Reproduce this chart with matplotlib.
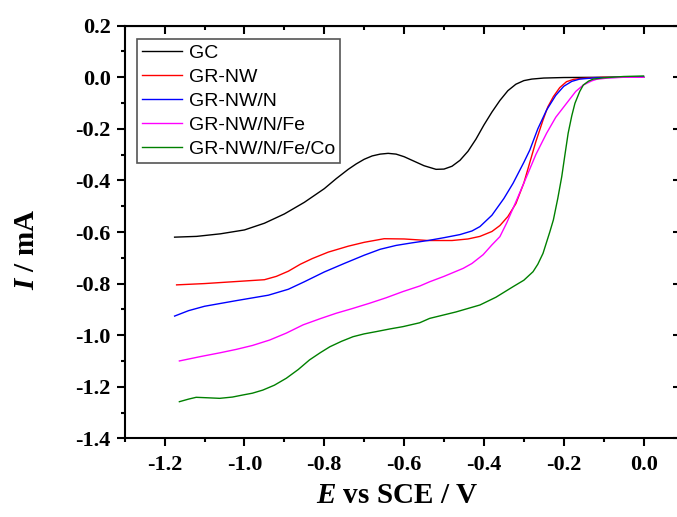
import matplotlib
matplotlib.use('Agg')
import matplotlib.pyplot as plt
from matplotlib.ticker import MultipleLocator
from matplotlib import rcParams

rcParams['mathtext.fontset'] = 'custom'
rcParams['mathtext.it'] = 'Liberation Serif:bold:italic'
rcParams['mathtext.rm'] = 'Liberation Serif:bold'
rcParams['mathtext.bf'] = 'Liberation Serif:bold'

# GC
gc_x = [-1.175, -1.12, -1.06, -1.00, -0.95, -0.90, -0.85, -0.80, -0.77, -0.74, -0.72, -0.70,
        -0.68, -0.66, -0.64, -0.62, -0.60, -0.58, -0.55, -0.52, -0.50, -0.48, -0.46, -0.44,
        -0.42, -0.40, -0.38, -0.36, -0.34, -0.32, -0.30, -0.28, -0.25, -0.20, -0.10, 0.0]
gc_y = [-0.620, -0.617, -0.607, -0.592, -0.566, -0.530, -0.485, -0.432, -0.393, -0.357, -0.336,
        -0.318, -0.305, -0.298, -0.295, -0.298, -0.308, -0.322, -0.343, -0.357, -0.356, -0.345,
        -0.322, -0.287, -0.240, -0.185, -0.135, -0.090, -0.052, -0.027, -0.013, -0.007, -0.003,
        -0.001, 0.0, 0.0]

# GR-NW
nw_x = [-1.17, -1.10, -1.02, -0.95, -0.92, -0.89, -0.86, -0.83, -0.79, -0.74, -0.70, -0.65,
        -0.60, -0.54, -0.48, -0.44, -0.41, -0.38, -0.36, -0.34, -0.32, -0.30, -0.285, -0.27,
        -0.252, -0.24, -0.226, -0.21, -0.193, -0.175, -0.16, -0.13, -0.10, 0.0]
nw_y = [-0.805, -0.800, -0.792, -0.785, -0.772, -0.752, -0.725, -0.703, -0.678, -0.655, -0.640,
        -0.626, -0.627, -0.633, -0.633, -0.627, -0.617, -0.598, -0.575, -0.540, -0.490, -0.410,
        -0.330, -0.250, -0.166, -0.115, -0.075, -0.040, -0.017, -0.008, -0.005, -0.002, 0.0, 0.0]

# GR-NW/N
n_x = [-1.175, -1.14, -1.10, -1.02, -0.94, -0.89, -0.85, -0.80, -0.75, -0.70, -0.66, -0.62,
       -0.58, -0.54, -0.50, -0.46, -0.43, -0.41, -0.38, -0.35, -0.327, -0.30, -0.285, -0.265,
       -0.243, -0.22, -0.20, -0.18, -0.16, -0.12, -0.06, 0.0]
n_y = [-0.926, -0.905, -0.888, -0.866, -0.845, -0.822, -0.793, -0.755, -0.722, -0.690, -0.667,
       -0.652, -0.642, -0.633, -0.622, -0.610, -0.596, -0.579, -0.535, -0.470, -0.411, -0.330,
       -0.282, -0.200, -0.127, -0.070, -0.035, -0.016, -0.007, -0.002, 0.0, 0.002]

# GR-NW/N/Fe
fe_x = [-1.163, -1.11, -1.06, -1.02, -0.98, -0.937, -0.895, -0.853, -0.81, -0.77, -0.73, -0.686,
        -0.645, -0.603, -0.56, -0.536, -0.50, -0.452, -0.43, -0.402, -0.38, -0.36, -0.343, -0.318,
        -0.293, -0.27, -0.243, -0.22, -0.193, -0.17, -0.151, -0.13, -0.118, -0.09, -0.05, 0.0]
fe_y = [-1.100, -1.083, -1.068, -1.055, -1.040, -1.019, -0.992, -0.960, -0.936, -0.915, -0.897,
        -0.876, -0.855, -0.831, -0.809, -0.793, -0.772, -0.741, -0.722, -0.688, -0.650, -0.618,
        -0.565, -0.476, -0.385, -0.300, -0.217, -0.155, -0.101, -0.055, -0.030, -0.014, -0.008,
        -0.003, 0.0, 0.0]

# GR-NW/N/Fe/Co
co_x = [-1.163, -1.14, -1.121, -1.09, -1.062, -1.03, -1.004, -0.98, -0.954, -0.925, -0.895, -0.865,
        -0.837, -0.81, -0.786, -0.757, -0.728, -0.70, -0.669, -0.636, -0.603, -0.561, -0.536,
        -0.47, -0.41, -0.37, -0.327, -0.30, -0.277, -0.265, -0.252, -0.235, -0.226, -0.215,
        -0.205, -0.197, -0.189, -0.18, -0.172, -0.16, -0.151, -0.138, -0.126, -0.10, -0.05, 0.0]
co_y = [-1.258, -1.248, -1.241, -1.243, -1.245, -1.240, -1.232, -1.225, -1.213, -1.194, -1.167,
        -1.133, -1.096, -1.068, -1.045, -1.024, -1.006, -0.995, -0.986, -0.976, -0.967, -0.952,
        -0.935, -0.910, -0.883, -0.853, -0.812, -0.787, -0.754, -0.725, -0.683, -0.600, -0.553,
        -0.470, -0.385, -0.300, -0.217, -0.150, -0.101, -0.055, -0.030, -0.015, -0.007, -0.002,
        0.003, 0.005]

series = [
    ('GC', gc_x, gc_y, 'black'),
    ('GR-NW', nw_x, nw_y, '#ff0000'),
    ('GR-NW/N', n_x, n_y, '#0000ff'),
    ('GR-NW/N/Fe', fe_x, fe_y, '#ff00ff'),
    ('GR-NW/N/Fe/Co', co_x, co_y, '#008000'),
]

fig = plt.figure(figsize=(6.77, 5.17), dpi=100)
ax = fig.add_axes([0.1842, 0.1522, 0.8254, 0.7981])

for label, xs, ys, color in series:
    ax.plot(xs, ys, color=color, linewidth=1.0, label=label)

ax.set_xlim(-1.3, 0.1)
ax.set_ylim(-1.4, 0.2)
ax.xaxis.set_minor_locator(MultipleLocator(0.1))
ax.yaxis.set_minor_locator(MultipleLocator(0.1))
ax.set_xticks([-1.2, -1.0, -0.8, -0.6, -0.4, -0.2, 0.0])
ax.set_xticklabels(['-1.2', '-1.0', '-0.8', '-0.6', '-0.4', '-0.2', '0.0'])
ax.set_yticks([0.2, 0.0, -0.2, -0.4, -0.6, -0.8, -1.0, -1.2, -1.4])
ax.set_yticklabels(['0.2', '0.0', '-0.2', '-0.4', '-0.6', '-0.8', '-1.0', '-1.2', '-1.4'])

for sp in ax.spines.values():
    sp.set_linewidth(1.5)

ax.tick_params(which='major', direction='out', length=6, width=1.5, top=False, right=False,
               labelsize=16, pad=4)
ax.tick_params(which='minor', direction='out', length=3, width=1.5, top=False, right=False)
ax.tick_params(axis='x', which='major', pad=6)
for t in ax.get_xticklabels() + ax.get_yticklabels():
    t.set_fontfamily('Liberation Serif')
    t.set_fontweight('bold')

# top / right ticks point inward
top = ax.secondary_xaxis('top')
top.xaxis.set_major_locator(MultipleLocator(0.2))
top.xaxis.set_minor_locator(MultipleLocator(0.1))
top.tick_params(which='major', direction='in', length=6, width=1.5, labeltop=False)
top.tick_params(which='minor', direction='in', length=3, width=1.5)
right = ax.secondary_yaxis('right')
right.yaxis.set_major_locator(MultipleLocator(0.2))
right.yaxis.set_minor_locator(MultipleLocator(0.1))
right.tick_params(which='major', direction='in', length=7, width=1.5, labelright=False)
right.tick_params(which='minor', direction='in', length=4, width=1.5)

ax.set_xlabel(r'$\it{E}$ vs SCE / V', fontsize=21, fontweight='bold', fontfamily='Liberation Serif')
ax.set_ylabel(r'$\it{I}$ / mA', fontsize=21, fontweight='bold', fontfamily='Liberation Serif')
ax.xaxis.set_label_coords(0.487, -0.105)
ax.yaxis.set_label_coords(-0.152, 0.458)

leg = ax.legend(loc='upper left', bbox_to_anchor=(0.0215, 0.967), borderaxespad=0,
                prop={'family': 'Liberation Sans', 'size': 14}, frameon=True, fancybox=False,
                framealpha=1, edgecolor='#555555', handlelength=2.1, handletextpad=0.35,
                labelspacing=0.33, borderpad=0.25)
leg.get_frame().set_linewidth(1.2)

plt.savefig('out.png', dpi=100)
